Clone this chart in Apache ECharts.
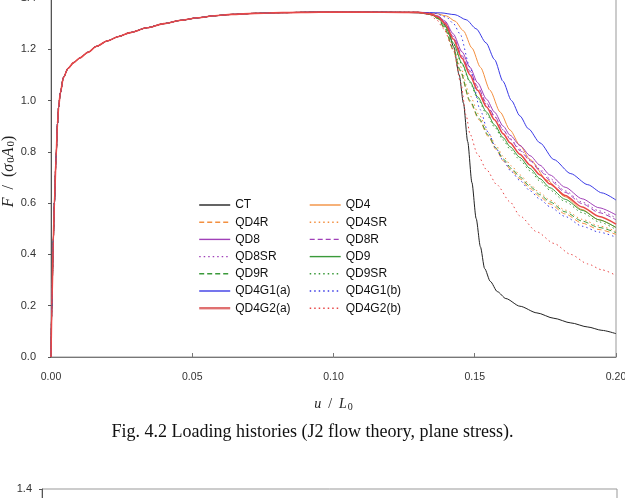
<!DOCTYPE html>
<html>
<head>
<meta charset="utf-8">
<script src="https://cdn.jsdelivr.net/npm/echarts@6/dist/echarts.min.js"></script>
<style>
  html, body { margin: 0; padding: 0; background: #fff; }
  #main { width: 625px; height: 498px; }
</style>
</head>
<body>
<div id="main"></div>
<script>
// common hardening part, same for every model (u/L0, F/(s0 A0))
var baseCurve = [
  [0, 0], [0.0003, 0.2], [0.0008, 0.45], [0.0012, 0.6], [0.0018, 0.78], [0.0023, 0.91],
  [0.0027, 0.975], [0.0033, 1.03], [0.0044, 1.09], [0.006, 1.125], [0.008, 1.148],
  [0.0103, 1.167], [0.013, 1.188], [0.0162, 1.212], [0.02, 1.233], [0.024, 1.25],
  [0.028, 1.265], [0.034, 1.284], [0.04, 1.3], [0.046, 1.313], [0.052, 1.323],
  [0.058, 1.331], [0.064, 1.336], [0.072, 1.34], [0.082, 1.343], [0.095, 1.345],
  [0.11, 1.345], [0.125, 1.344]
]

// softening tails
var ctTail = [[0.13, 1.342], [0.135, 1.335], [0.138, 1.318], [0.1405, 1.28], [0.1425, 1.21], [0.1445, 1.1], [0.146, 0.99], [0.1475, 0.84], [0.149, 0.68], [0.1505, 0.54], [0.152, 0.43], [0.1535, 0.345], [0.1555, 0.295], [0.158, 0.255], [0.161, 0.228], [0.166, 0.198], [0.172, 0.172], [0.178, 0.151], [0.184, 0.133], [0.19, 0.117], [0.195, 0.104], [0.2, 0.091]]
var qd4Tail = [[0.13, 1.344], [0.136, 1.34], [0.14, 1.33], [0.143, 1.31], [0.146, 1.272], [0.149, 1.205], [0.152, 1.13], [0.1554, 1.04], [0.159, 0.955], [0.1625, 0.885], [0.166, 0.825], [0.1696, 0.77], [0.1755, 0.69], [0.182, 0.625], [0.188, 0.575], [0.194, 0.535], [0.2, 0.505]]
var qd4rTail = [[0.13, 1.344], [0.134, 1.337], [0.137, 1.319], [0.1395, 1.277], [0.1424, 1.195], [0.1448, 1.115], [0.1483, 0.995], [0.1515, 0.925], [0.1548, 0.86], [0.1575, 0.81], [0.1601, 0.765], [0.163, 0.728], [0.166, 0.695], [0.1696, 0.657], [0.1731, 0.625], [0.1766, 0.597], [0.182, 0.558], [0.188, 0.522], [0.194, 0.497], [0.2, 0.478]]
var qd4srTail = [[0.13, 1.344], [0.134, 1.338], [0.137, 1.322], [0.1395, 1.285], [0.1424, 1.21], [0.1448, 1.135], [0.1483, 1.02], [0.1515, 0.945], [0.1548, 0.875], [0.1575, 0.825], [0.1601, 0.782], [0.163, 0.745], [0.166, 0.71], [0.1696, 0.672], [0.1731, 0.64], [0.1766, 0.612], [0.182, 0.573], [0.188, 0.537], [0.194, 0.511], [0.2, 0.49]]
var qd8Tail = [[0.13, 1.344], [0.134, 1.34], [0.137, 1.33], [0.1395, 1.31], [0.1424, 1.26], [0.1455, 1.19], [0.1483, 1.13], [0.151, 1.07], [0.1542, 1.005], [0.157, 0.955], [0.1601, 0.9], [0.1625, 0.865], [0.166, 0.825], [0.1696, 0.785], [0.1731, 0.748], [0.1766, 0.71], [0.182, 0.662], [0.188, 0.617], [0.194, 0.582], [0.2, 0.554]]
var qd8rTail = [[0.13, 1.344], [0.134, 1.339], [0.137, 1.328], [0.1395, 1.305], [0.1424, 1.25], [0.1455, 1.175], [0.1483, 1.115], [0.151, 1.055], [0.1542, 0.99], [0.157, 0.94], [0.1601, 0.885], [0.1625, 0.85], [0.166, 0.805], [0.1696, 0.765], [0.1731, 0.726], [0.1766, 0.69], [0.182, 0.642], [0.188, 0.598], [0.194, 0.563], [0.2, 0.535]]
var qd8srTail = [[0.13, 1.344], [0.134, 1.339], [0.137, 1.327], [0.1395, 1.303], [0.1424, 1.245], [0.1455, 1.17], [0.1483, 1.11], [0.151, 1.05], [0.1542, 0.985], [0.157, 0.937], [0.1601, 0.885], [0.1625, 0.852], [0.166, 0.81], [0.1696, 0.77], [0.1731, 0.732], [0.1766, 0.696], [0.182, 0.648], [0.188, 0.604], [0.194, 0.57], [0.2, 0.542]]
var qd9Tail = [[0.13, 1.344], [0.134, 1.338], [0.137, 1.323], [0.1395, 1.29], [0.1424, 1.225], [0.1455, 1.145], [0.1483, 1.075], [0.151, 1.015], [0.1542, 0.955], [0.157, 0.905], [0.1601, 0.855], [0.1625, 0.82], [0.166, 0.778], [0.1696, 0.735], [0.1731, 0.695], [0.1766, 0.66], [0.182, 0.615], [0.188, 0.572], [0.194, 0.535], [0.2, 0.505]]
var qd9rTail = [[0.13, 1.344], [0.134, 1.337], [0.137, 1.32], [0.1395, 1.28], [0.1424, 1.2], [0.1448, 1.12], [0.1483, 1.0], [0.1515, 0.93], [0.1548, 0.865], [0.1575, 0.815], [0.1601, 0.772], [0.163, 0.735], [0.166, 0.702], [0.1696, 0.665], [0.1731, 0.633], [0.1766, 0.605], [0.182, 0.566], [0.188, 0.53], [0.194, 0.505], [0.2, 0.485]]
var qd9srTail = [[0.13, 1.344], [0.134, 1.338], [0.137, 1.322], [0.1395, 1.287], [0.1424, 1.22], [0.1455, 1.14], [0.1483, 1.07], [0.151, 1.008], [0.1542, 0.947], [0.157, 0.897], [0.1601, 0.846], [0.1625, 0.81], [0.166, 0.768], [0.1696, 0.726], [0.1731, 0.686], [0.1766, 0.651], [0.182, 0.606], [0.188, 0.563], [0.194, 0.527], [0.2, 0.497]]
var qd4g1aTail = [[0.13, 1.344], [0.138, 1.342], [0.143, 1.335], [0.147, 1.315], [0.1505, 1.28], [0.154, 1.225], [0.157, 1.16], [0.16, 1.075], [0.163, 1.0], [0.166, 0.94], [0.169, 0.89], [0.1731, 0.835], [0.178, 0.77], [0.184, 0.715], [0.19, 0.672], [0.195, 0.64], [0.2, 0.612]]
var qd4g1bTail = [[0.13, 1.344], [0.136, 1.34], [0.14, 1.325], [0.1425, 1.3], [0.1448, 1.26], [0.1483, 1.13], [0.1519, 0.965], [0.1548, 0.875], [0.1575, 0.815], [0.1601, 0.765], [0.163, 0.722], [0.166, 0.688], [0.1696, 0.648], [0.1731, 0.615], [0.1766, 0.586], [0.182, 0.548], [0.188, 0.51], [0.194, 0.487], [0.2, 0.467]]
var qd4g2aTail = [[0.13, 1.344], [0.134, 1.339], [0.137, 1.326], [0.1395, 1.3], [0.1424, 1.24], [0.1455, 1.165], [0.1483, 1.1], [0.151, 1.04], [0.1542, 0.975], [0.157, 0.925], [0.1601, 0.87], [0.1625, 0.835], [0.166, 0.79], [0.1696, 0.748], [0.1731, 0.71], [0.1766, 0.675], [0.182, 0.63], [0.188, 0.585], [0.194, 0.548], [0.2, 0.518]]
var qd4g2bTail = [[0.13, 1.344], [0.134, 1.335], [0.1365, 1.315], [0.139, 1.28], [0.1424, 1.2], [0.145, 1.07], [0.147, 0.94], [0.1483, 0.87], [0.151, 0.79], [0.1542, 0.73], [0.1578, 0.672], [0.1625, 0.605], [0.166, 0.55], [0.172, 0.488], [0.178, 0.443], [0.184, 0.4], [0.19, 0.363], [0.195, 0.34], [0.2, 0.318]]

var leftNames = ['CT', 'QD4R', 'QD8', 'QD8SR', 'QD9R', 'QD4G1(a)', 'QD4G2(a)']
var rightNames = ['QD4', 'QD4SR', 'QD8R', 'QD9', 'QD9SR', 'QD4G1(b)', 'QD4G2(b)']
var xTicks = [0, 0.05, 0.1, 0.15, 0.2]

var DASH = [5, 3], DOT = [1.5, 3]
var ORANGE = '#f39040', PURPLE = '#a040b8', GREEN = '#3a9a3a', BLUE = '#3a3ae6', RED = '#e84848'

function line(name, tail, color, type, width) {
  return {
    name: name,
    type: 'line',
    data: baseCurve.concat(tail),
    symbol: 'none',
    showSymbol: false,
    smooth: 0.25,
    smoothMonotone: 'x',
    lineStyle: { color: color, type: type, width: width || 1 },
    itemStyle: { color: color },
    xAxisIndex: 0,
    yAxisIndex: 0,
    silent: true
  }
}

var series = [
  line('CT', ctTail, '#222', 'solid'),
  line('QD4', qd4Tail, ORANGE, 'solid'),
  line('QD4R', qd4rTail, ORANGE, DASH),
  line('QD4SR', qd4srTail, ORANGE, DOT),
  line('QD8', qd8Tail, PURPLE, 'solid'),
  line('QD8R', qd8rTail, PURPLE, DASH),
  line('QD8SR', qd8srTail, PURPLE, DOT),
  line('QD9', qd9Tail, GREEN, 'solid'),
  line('QD9R', qd9rTail, GREEN, DASH),
  line('QD9SR', qd9srTail, GREEN, DOT),
  line('QD4G1(a)', qd4g1aTail, BLUE, 'solid'),
  line('QD4G1(b)', qd4g1bTail, BLUE, DOT),
  line('QD4G2(a)', qd4g2aTail, RED, 'solid', 1.6),
  line('QD4G2(b)', qd4g2bTail, RED, DOT)
]

function legendData(names) {
  return names.map(function (n) {
    return n === 'QD4G2(a)' ? { name: n, lineStyle: { width: 2.4, color: '#e07070' } } : { name: n }
  })
}

var legendCommon = {
  orient: 'vertical',
  top: 194,
  itemWidth: 31,
  itemHeight: 12,
  itemGap: 5.2,
  selectedMode: false,
  itemStyle: { opacity: 0 },
  lineStyle: { width: 1.4 },
  textStyle: { fontFamily: 'Liberation Sans', fontSize: 12, color: '#111' }
}

var chart = echarts.init(document.getElementById('main'), null, { renderer: 'canvas' })

var option = {
  animation: false,
  backgroundColor: '#fff',
  grid: [
    { left: 51, right: 9, top: -2, bottom: 141, show: true, borderColor: '#999', borderWidth: 1, outerBoundsMode: 'none' },
    { left: 42, right: 8, top: 489, height: 300, show: true, borderColor: '#999', borderWidth: 1, outerBoundsMode: 'none' }
  ],
  legend: [
    Object.assign({ left: 193, data: legendData(leftNames) }, legendCommon),
    Object.assign({ left: 304, data: legendData(rightNames) }, legendCommon)
  ],
  xAxis: [{
    type: 'value', gridIndex: 0, min: 0, max: 0.2, interval: 0.05,
    axisLine: { onZero: false, lineStyle: { color: '#777' } },
    axisTick: { inside: true, length: 4, lineStyle: { color: '#777' } },
    splitLine: { show: false },
    axisLabel: { fontFamily: 'Liberation Sans', fontSize: 10.5, color: '#333', margin: 15,
      formatter: function (v) { return v.toFixed(2) }, customValues: xTicks },
    name: '{i|u}  /  {i|L}{s|0}',
    nameLocation: 'middle',
    nameGap: 39,
    nameMoveOverlap: false,
    nameTextStyle: {
      fontFamily: 'Liberation Serif', fontSize: 14, color: '#222',
      rich: {
        i: { fontFamily: 'Liberation Serif', fontStyle: 'italic', fontSize: 14, color: '#222' },
        s: { fontFamily: 'Liberation Serif', fontSize: 10, color: '#222', padding: [6, 0, 0, 1] }
      }
    }
  }, {
    type: 'value', gridIndex: 1, min: 0, max: 0.2, interval: 0.05, show: false
  }],
  yAxis: [{
    type: 'value', gridIndex: 0, min: 0, max: 1.4, interval: 0.2,
    axisLine: { show: true, lineStyle: { color: '#555' } },
    axisTick: { show: true, length: 3, lineStyle: { color: '#555' } },
    splitLine: { show: false },
    axisLabel: { fontFamily: 'Liberation Sans', fontSize: 11, color: '#333', margin: 15,
      formatter: function (v) { return v.toFixed(1) } },
    name: '{i|F}  /  ({i|σ}{s|0}{i|A}{s|0})',
    nameLocation: 'middle',
    nameGap: 34,
    nameMoveOverlap: false,
    nameTextStyle: {
      fontFamily: 'Liberation Serif', fontSize: 16, color: '#222', padding: [0, 0, 0, 12],
      rich: {
        i: { fontFamily: 'Liberation Serif', fontStyle: 'italic', fontSize: 16, color: '#222' },
        s: { fontFamily: 'Liberation Serif', fontSize: 11, color: '#222', padding: [6, 0, 0, 1] }
      }
    }
  }, {
    type: 'value', gridIndex: 1, min: 0, max: 1.4, interval: 0.2,
    axisLine: { show: true, lineStyle: { color: '#555' } },
    axisTick: { show: true, length: 3 },
    splitLine: { show: false },
    axisLabel: { fontFamily: 'Liberation Sans', fontSize: 11, color: '#333', margin: 10,
      formatter: function (v) { return v.toFixed(1) } }
  }],
  graphic: [{
    type: 'text',
    left: 'center',
    top: 423,
    style: {
      text: 'Fig. 4.2 Loading histories (J2 flow theory, plane stress).',
      font: '18px "Liberation Serif"',
      fill: '#111'
    }
  }],
  series: series
}

chart.setOption(option)
</script>
</body>
</html>
